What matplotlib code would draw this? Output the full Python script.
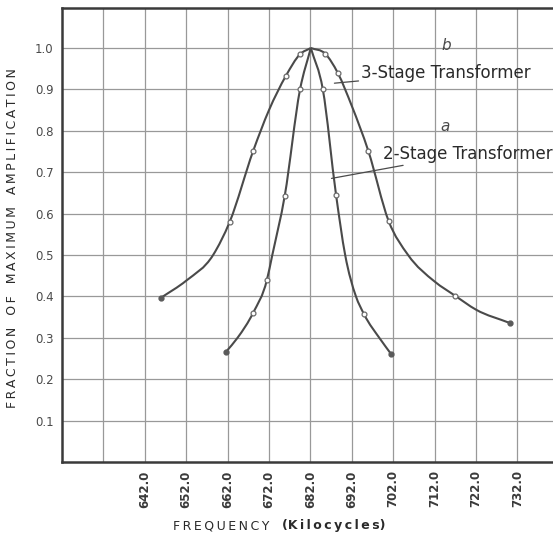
import matplotlib.pyplot as plt
import numpy as np
from matplotlib.path import Path
from matplotlib.patches import PathPatch

# curve b, 3-stage transformer: trace (kilocycles, fraction)
trace_3stage_x = [645.8, 652.0, 658.5, 662.5, 668.2, 672.0, 676.1, 679.5, 682.1,
                  685.6, 688.6, 692.0, 696.0, 700.9, 705.6, 712.0, 716.9, 722.0, 730.1]
trace_3stage_y = [0.396, 0.438, 0.50, 0.580, 0.752, 0.850, 0.933, 0.985, 1.0,
                  0.986, 0.940, 0.860, 0.751, 0.582, 0.50, 0.436, 0.402, 0.368, 0.336]
# the small circles (measured points)
pts_3stage_x = [662.5, 668.2, 676.1, 679.5, 685.6, 688.6, 696.0, 700.9, 716.9]
pts_3stage_y = [0.580, 0.752, 0.933, 0.985, 0.986, 0.940, 0.751, 0.582, 0.402]

# curve a, 2-stage transformer
trace_2stage_x = [661.6, 664.4, 668.2, 671.5, 672.8, 675.8, 679.5, 682.1,
                  685.0, 688.2, 690.4, 693.0, 694.9, 699.0, 701.4]
trace_2stage_y = [0.266, 0.300, 0.361, 0.440, 0.50, 0.643, 0.90, 1.0,
                  0.90, 0.645, 0.50, 0.40, 0.358, 0.295, 0.262]
pts_2stage_x = [668.2, 671.5, 675.8, 679.5, 685.0, 688.2, 694.9]
pts_2stage_y = [0.361, 0.440, 0.643, 0.90, 0.90, 0.645, 0.358]

x_ticks = [642, 652, 662, 672, 682, 692, 702, 712, 722, 732]
x_ticklabels = ['642.0', '652.0', '662.0', '672.0', '682.0', '692.0', '702.0', '712.0', '722.0', '732.0']
y_ticks = [0.1, 0.2, 0.3, 0.4, 0.5, 0.6, 0.7, 0.8, 0.9, 1.0]
y_ticklabels = ['0.1', '0.2', '0.3', '0.4', '0.5', '0.6', '0.7', '0.8', '0.9', '1.0']

INK = '#4a4a4a'
TS = '\u2009'  # thin space, for the spaced-out capitals


def spaced(s):
    return TS.join(s)


def hermite_path(xs, ys):
    # smooth y(x) through the traced points, drawn as cubic bezier segments
    x = np.asarray(xs, float)
    y = np.asarray(ys, float)
    h = np.diff(x)
    d = np.diff(y) / h
    m = np.empty_like(x)
    m[0], m[-1] = d[0], d[-1]
    for i in range(1, len(x) - 1):
        m[i] = (h[i - 1] * d[i] + h[i] * d[i - 1]) / (h[i - 1] + h[i])
    verts = [(x[0], y[0])]
    codes = [Path.MOVETO]
    for i in range(len(x) - 1):
        verts += [(x[i] + h[i] / 3, y[i] + m[i] * h[i] / 3),
                  (x[i + 1] - h[i] / 3, y[i + 1] - m[i + 1] * h[i] / 3),
                  (x[i + 1], y[i + 1])]
        codes += [Path.CURVE4] * 3
    return Path(verts, codes)


fig = plt.figure(figsize=(5.53, 5.36), dpi=100)
ax = fig.add_axes([62 / 553, 74 / 536, 491 / 553, 454 / 536])
ax.set_xlim(622, 622 + 491 / 4.14)
ax.set_ylim(0, 454 / 414)

ax.set_xticks(x_ticks)
ax.set_xticklabels(x_ticklabels, rotation=90, fontsize=8.5, color='#3a3a3a', fontweight='bold')
ax.set_yticks(y_ticks)
ax.set_yticklabels(y_ticklabels, fontsize=8.5, color=INK)
ax.set_xticks([632], minor=True)
ax.tick_params(axis='both', which='both', length=0, pad=6)
ax.grid(True, which='both', color='#999999', linewidth=0.9)
ax.set_axisbelow(True)

for side in ['left', 'bottom', 'top']:
    ax.spines[side].set_color('#3a3a3a')
    ax.spines[side].set_linewidth(1.8)
ax.spines['right'].set_visible(False)

for tx, ty, px, py in [(trace_3stage_x, trace_3stage_y, pts_3stage_x, pts_3stage_y),
                       (trace_2stage_x, trace_2stage_y, pts_2stage_x, pts_2stage_y)]:
    k = int(np.argmax(ty))
    # two halves so the tip stays pointed
    for part in [slice(0, k + 1), slice(k, None)]:
        ax.add_patch(PathPatch(hermite_path(tx[part], ty[part]), fill=False,
                               edgecolor=INK, linewidth=1.5, zorder=3))
    ax.plot(px, py, 'o', markersize=3.5, markerfacecolor='white',
            markeredgecolor='#6a6a6a', markeredgewidth=0.9, zorder=4)
    # end points are dark dots
    ax.plot([tx[0], tx[-1]], [ty[0], ty[-1]], 'o', markersize=3.5,
            color='#5a5a5a', zorder=4)

# curve labels with leader lines
ax.annotate('3-Stage Transformer', xy=(687.8, 0.915), xytext=(694.3, 0.94),
            fontsize=12, color='#2a2a2a', va='center', ha='left',
            arrowprops=dict(arrowstyle='-', color=INK, lw=0.9, shrinkA=0, shrinkB=0))
ax.annotate('2-Stage Transformer', xy=(687.1, 0.685), xytext=(699.5, 0.745),
            fontsize=12, color='#2a2a2a', va='center', ha='left', annotation_clip=False,
            arrowprops=dict(arrowstyle='-', color=INK, lw=0.9, shrinkA=0, shrinkB=0))
ax.text(714.8, 1.005, 'b', fontsize=11, style='italic', color=INK, ha='center', va='center')
ax.text(714.5, 0.81, 'a', fontsize=11, style='italic', color=INK, ha='center', va='center')

fig.text(13 / 553, 1 - 238 / 536, spaced('FRACTION') + '   ' + spaced('OF') + '   '
         + spaced('MAXIMUM') + '   ' + spaced('AMPLIFICATION'), rotation=90,
         fontsize=9, color='#2a2a2a', ha='center', va='center')
fig.text(221 / 553, 1 - 526 / 536, spaced('FREQUENCY'), fontsize=9,
         color='#2a2a2a', ha='center', va='center')
fig.text(334 / 553, 1 - 526 / 536, '(' + spaced('Kilocycles') + ')', fontsize=9,
         fontweight='bold', color='#2a2a2a', ha='center', va='center')

fig.savefig('out.png', dpi=100)
